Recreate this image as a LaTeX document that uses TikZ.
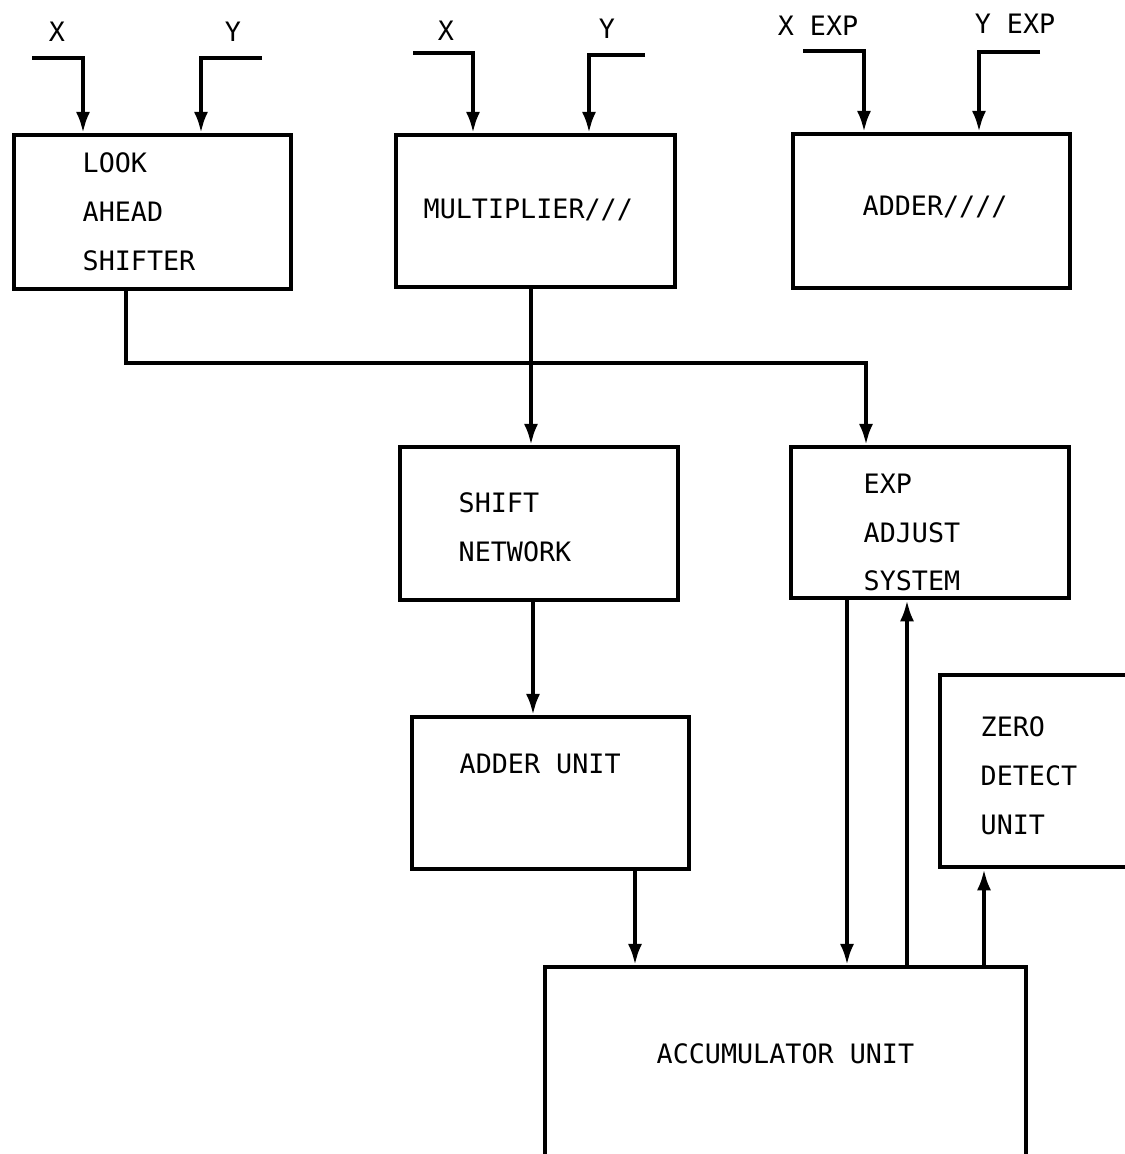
\documentclass[tikz,border=0pt]{standalone}
\usepackage{fontspec}
\newfontfamily\typefont{DejaVu Sans Mono}
\usetikzlibrary{arrows.meta}

\begin{document}
\begin{tikzpicture}[x=0.01cm, y=-0.01cm,
  wire/.style={line width=1.1pt},
  arr/.style={wire, -{Latex[length=6pt, width=4pt]}},
  unit/.style={draw, line width=1.2pt, inner sep=0, anchor=north west},
  lbl/.style={font=\typefont\fontsize{7.6pt}{13.9pt}\selectfont, inner sep=0, anchor=north west, align=left},
  inlbl/.style={font=\typefont\fontsize{7.6pt}{13.9pt}\selectfont, inner sep=0, anchor=base}
]
\useasboundingbox (0,0) rectangle (1125,1154);
\clip (0,0) rectangle (1125,1154);

% ---- blocks (north-west corner, width, height in px units) ----
\node[unit, minimum width=277*0.01cm, minimum height=154*0.01cm] (las) at (12,133) {};
\node[unit, minimum width=279*0.01cm, minimum height=152*0.01cm] (mul) at (394,133) {};
\node[unit, minimum width=277*0.01cm, minimum height=154*0.01cm] (add) at (791,132) {};
\node[unit, minimum width=278*0.01cm, minimum height=153*0.01cm] (shf) at (398,445) {};
\node[unit, minimum width=278*0.01cm, minimum height=151*0.01cm] (exp) at (789,445) {};
\node[unit, minimum width=277*0.01cm, minimum height=152*0.01cm] (adu) at (410,715) {};
\node[unit, minimum width=240*0.01cm, minimum height=192*0.01cm] (zdu) at (938,673) {};
\node[unit, minimum width=481*0.01cm, minimum height=260*0.01cm] (acc) at (543,965) {};

% ---- block texts ----
\node[lbl] (tlas) at (82,152) {LOOK\\AHEAD\\SHIFTER};
\node[lbl] (tmul) at (423,198) {MULTIPLIER///};
\node[lbl] (tadd) at (862,195) {ADDER////};
\node[lbl] (tshf) at (458,492) {SHIFT\\NETWORK};
\node[lbl] (texp) at (863,473) {EXP\\ADJUST\\SYSTEM};
\node[lbl] (tadu) at (459,753) {ADDER UNIT};
\node[lbl] (tzdu) at (980,716) {ZERO\\DETECT\\UNIT};
\node[lbl] (tacc) at (656,1043) {ACCUMULATOR UNIT};

% ---- input labels ----
\node[inlbl] (lx1) at (57,41) {X};
\node[inlbl] (ly1) at (233,41) {Y};
\node[inlbl] (lx2) at (446,40) {X};
\node[inlbl] (ly2) at (607,38) {Y};
\node[inlbl] (lx3) at (818,35) {X EXP};
\node[inlbl] (ly3) at (1015,33) {Y EXP};

% ---- free ends of the input wires ----
\coordinate (ix1) at (32,58);
\coordinate (iy1) at (262,58);
\coordinate (ix2) at (413,53);
\coordinate (iy2) at (645,55);
\coordinate (ix3) at (803,51);
\coordinate (iy3) at (1040,52);

\draw[arr] (ix1) -| (las.north -| 83,0);
\draw[arr] (iy1) -| (las.north -| 201,0);
\draw[arr] (ix2) -| (mul.north -| 473,0);
\draw[arr] (iy2) -| (mul.north -| 589,0);
\draw[arr] (ix3) -| (add.north -| 864,0);
\draw[arr] (iy3) -| (add.north -| 979,0);

% ---- internal connections ----
\coordinate (bend) at (126,363);
\draw[arr] (las.south -| 126,0) -- (bend) -| (exp.north -| 866,0);
\draw[arr] (mul.south -| 531,0) -- (shf.north -| 531,0);
\draw[arr] (shf.south -| 533,0) -- (adu.north -| 533,0);
\draw[arr] (adu.south -| 635,0) -- (acc.north -| 635,0);
\draw[arr] (exp.south -| 847,0) -- (acc.north -| 847,0);
\draw[arr] (acc.north -| 907,0) -- (exp.south -| 907,0);
\draw[arr] (acc.north -| 984,0) -- (zdu.south -| 984,0);
\end{tikzpicture}
\end{document}
